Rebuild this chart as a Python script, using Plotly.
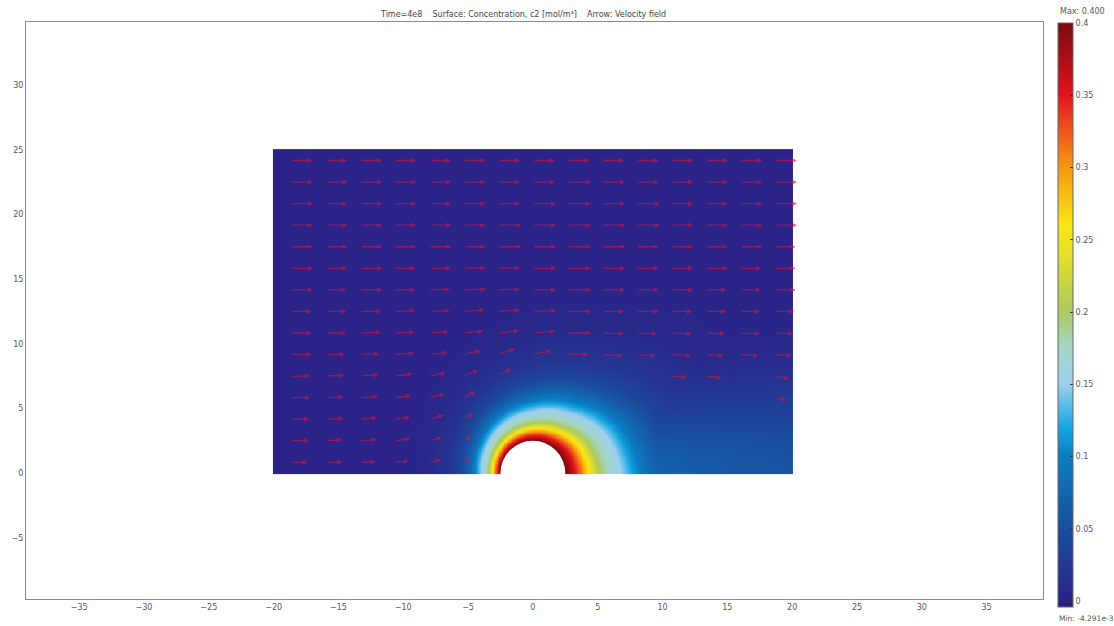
import numpy as np
import plotly.graph_objects as go

# ---------------- data ----------------
cyl_radius = 2.5
domain_x = [-20.0, 20.0]
domain_y = [0.0, 25.0]

# concentration vs. (normalised) distance from the cylinder surface, straight up
ring_dist = [0.0, 0.25, 0.6, 0.9, 1.4, 1.8, 2.3, 2.8, 3.7, 4.7, 6.0, 8.0, 12.0]
ring_conc = [0.40, 0.37, 0.32, 0.27, 0.20, 0.175, 0.15, 0.115, 0.07, 0.04, 0.02, 0.008, 0.0]

# how far the rings reach at each polar angle (0 = downstream, 180 = upstream)
stretch_angle_deg = [0, 30, 60, 90, 120, 150, 180]
stretch_factor = [1.85, 1.65, 1.25, 1.0, 0.85, 0.72, 0.65]

# downstream plume: centre-line concentration and width
plume_x = [0.0, 3.0, 6.0, 10.0, 15.0, 20.0]
plume_c0 = [0.0, 0.065, 0.078, 0.07, 0.062, 0.056]
plume_w = [3.0, 3.6, 4.6, 5.6, 6.3, 6.9]

c_min = -4.291e-3
c_max = 0.400

# arrow grid (tails) and components, rows from bottom to top
arrow_x = [-18.67, -16.0, -13.33, -10.67, -8.0, -5.33, -2.67, 0.0,
           2.67, 5.33, 8.0, 10.67, 13.33, 16.0, 18.67]
arrow_y = [0.83, 2.5, 4.17, 5.83, 7.5, 9.17, 10.83, 12.5, 14.17,
           15.83, 17.5, 19.17, 20.83, 22.5, 24.17]
arrow_u = [
    [1.3, 1.3, 1.2, 1.1, 0.9, 0.5, 0, 0, 0, 0, 0, 0, 0, 0, 0],
    [1.4, 1.3, 1.3, 1.2, 1.0, 0.6, 0, 0, 0, 0, 0, 0, 0, 0, 0],
    [1.4, 1.4, 1.3, 1.2, 1.1, 0.7, 0, 0, 0, 0, 0, 0, 0, 0, 0],
    [1.5, 1.4, 1.4, 1.3, 1.2, 0.9, 0, 0, 0, 0, 0, 0, 0, 0, 0.9],
    [1.5, 1.5, 1.4, 1.4, 1.3, 1.1, 1.0, 0, 0, 0, 0, 1.2, 1.2, 0, 1.1],
    [1.6, 1.5, 1.5, 1.5, 1.4, 1.3, 1.3, 1.4, 1.6, 1.6, 1.5, 1.5, 1.4, 1.4, 1.3],
    [1.6, 1.6, 1.6, 1.5, 1.5, 1.5, 1.6, 1.7, 1.8, 1.7, 1.6, 1.6, 1.5, 1.5, 1.4],
    [1.6, 1.6, 1.6, 1.6, 1.6, 1.6, 1.7, 1.8, 1.8, 1.7, 1.7, 1.6, 1.6, 1.5, 1.5],
    [1.7, 1.6, 1.7, 1.6, 1.6, 1.7, 1.7, 1.8, 1.8, 1.8, 1.7, 1.7, 1.6, 1.6, 1.6],
    [1.7, 1.7, 1.7, 1.6, 1.7, 1.7, 1.7, 1.8, 1.8, 1.8, 1.7, 1.7, 1.7, 1.6, 1.6],
    [1.7, 1.7, 1.7, 1.7, 1.7, 1.7, 1.8, 1.8, 1.8, 1.8, 1.7, 1.7, 1.7, 1.7, 1.6],
    [1.7, 1.7, 1.7, 1.7, 1.7, 1.7, 1.8, 1.8, 1.8, 1.8, 1.8, 1.7, 1.7, 1.7, 1.7],
    [1.7, 1.7, 1.7, 1.7, 1.7, 1.7, 1.7, 1.8, 1.8, 1.8, 1.8, 1.7, 1.7, 1.7, 1.7],
    [1.7, 1.7, 1.7, 1.7, 1.7, 1.7, 1.7, 1.7, 1.8, 1.8, 1.7, 1.7, 1.7, 1.7, 1.7],
    [1.7, 1.7, 1.7, 1.7, 1.7, 1.7, 1.7, 1.7, 1.7, 1.7, 1.7, 1.7, 1.7, 1.7, 1.7],
]
arrow_v = [
    [0.0, 0.0, 0.05, 0.1, 0.2, 0.3, 0, 0, 0, 0, 0, 0, 0, 0, 0],
    [0.0, 0.05, 0.1, 0.15, 0.25, 0.4, 0, 0, 0, 0, 0, 0, 0, 0, 0],
    [0.0, 0.05, 0.1, 0.15, 0.3, 0.45, 0, 0, 0, 0, 0, 0, 0, 0, 0],
    [0.0, 0.05, 0.1, 0.15, 0.3, 0.5, 0, 0, 0, 0, 0, 0, 0, 0, -0.2],
    [0.0, 0.05, 0.1, 0.15, 0.25, 0.45, 0.6, 0, 0, 0, 0, -0.1, -0.15, 0, -0.2],
    [0.0, 0.0, 0.05, 0.1, 0.15, 0.3, 0.45, 0.3, 0.0, -0.1, -0.1, -0.1, -0.1, -0.1, -0.1],
    [0.0, 0.0, 0.05, 0.05, 0.1, 0.15, 0.2, 0.15, 0.0, -0.05, -0.05, -0.05, -0.05, -0.05, -0.05],
    [0.0, 0.0, 0.0, 0.05, 0.05, 0.1, 0.1, 0.05, 0.0, 0.0, 0.0, 0.0, 0.0, 0.0, 0.0],
    [0, 0, 0, 0, 0.05, 0.05, 0.05, 0.0, 0, 0, 0, 0, 0, 0, 0],
    [0, 0, 0, 0, 0, 0.05, 0.05, 0, 0, 0, 0, 0, 0, 0, 0],
    [0, 0, 0, 0, 0, 0, 0, 0, 0, 0, 0, 0, 0, 0, 0],
    [0, 0, 0, 0, 0, 0, 0, 0, 0, 0, 0, 0, 0, 0, 0],
    [0, 0, 0, 0, 0, 0, 0, 0, 0, 0, 0, 0, 0, 0, 0],
    [0, 0, 0, 0, 0, 0, 0, 0, 0, 0, 0, 0, 0, 0, 0],
    [0, 0, 0, 0, 0, 0, 0, 0, 0, 0, 0, 0, 0, 0, 0],
]

# colour map (concentration values -> colours), as on the colour bar
cs_values = [-0.004291, 0.0, 0.05, 0.1, 0.12, 0.15, 0.175, 0.2, 0.24, 0.26, 0.3, 0.33, 0.35, 0.4]
cs_colors = ['#2a1c7e', '#2b2387', '#1a4f9f', '#0b7cc4', '#16a6e2', '#9dcfee',
             '#a4d6cb', '#a9ca5e', '#e6df2a', '#fbe614', '#f5990f', '#ee4a1c',
             '#e2131d', '#7a0a0e']

colorbar_ticks = [0, 0.05, 0.1, 0.15, 0.2, 0.25, 0.3, 0.35, 0.4]
x_ticks = [-35, -30, -25, -20, -15, -10, -5, 0, 5, 10, 15, 20, 25, 30, 35]
y_ticks = [-5, 0, 5, 10, 15, 20, 25, 30]

title_text = ("Time=4e8\u00a0\u00a0\u00a0\u00a0Surface: Concentration, c2 [mol/m\u00b3]"
              "\u00a0\u00a0\u00a0\u00a0Arrow: Velocity field")

# ---------------- field on a grid ----------------
xs = np.arange(domain_x[0], domain_x[1] + 1e-9, 0.1)
ys = np.arange(domain_y[0], domain_y[1] + 1e-9, 0.1)
X, Y = np.meshgrid(xs, ys)
R = np.hypot(X, Y)
TH = np.degrees(np.arctan2(Y, X))
d = np.clip(R - cyl_radius, 0, None)
s = np.interp(TH, stretch_angle_deg, stretch_factor)
ring = np.interp(d / s, ring_dist, ring_conc)
c0 = np.interp(X, plume_x, plume_c0, left=0.0)
w = np.interp(X, plume_x, plume_w)
plume = c0 * np.exp(-(Y / w) ** 2)
C = np.maximum(ring, plume)

span = c_max - c_min
colorscale = [[(v - c_min) / span, col] for v, col in zip(cs_values, cs_colors)]

fig = go.Figure()
fig.add_trace(go.Heatmap(
    x=xs, y=ys, z=C, zmin=c_min, zmax=c_max, colorscale=colorscale,
    zsmooth='best', hoverinfo='skip',
    colorbar=dict(
        thickness=15, thicknessmode='pixels',
        len=584, lenmode='pixels',
        x=1.0147, xanchor='left', xpad=0,
        y=0.492, yanchor='middle', ypad=0,
        outlinewidth=1, outlinecolor='#666',
        tickvals=colorbar_ticks,
        ticktext=[('%g' % t) for t in colorbar_ticks],
        ticks='inside', ticklen=3, tickcolor='#333',
        tickfont=dict(size=8, color='#555', family='DejaVu Sans'),
    ),
))

# velocity arrows
annotations = []
for j, yy in enumerate(arrow_y):
    for i, xx in enumerate(arrow_x):
        u = arrow_u[j][i]
        v = arrow_v[j][i]
        if u == 0 and v == 0:
            continue
        annotations.append(dict(
            x=xx + u, y=yy + v, ax=xx, ay=yy,
            xref='x', yref='y', axref='x', ayref='y',
            text='', showarrow=True, arrowhead=2, arrowsize=0.8,
            arrowwidth=1.3, arrowcolor='rgba(205,22,72,0.62)',
        ))

fig.update_layout(
    width=1114, height=626,
    margin=dict(l=22, r=71, t=22, b=27),
    paper_bgcolor='white', plot_bgcolor='white',
    showlegend=False,
    annotations=annotations,
    font=dict(family='DejaVu Sans', size=8, color='#555'),
    title=dict(text=title_text, x=0.47, xanchor='center', y=0.978, yanchor='middle',
               font=dict(size=8, color='#444', family='DejaVu Sans')),
)

# white hole of the cylinder
fig.add_shape(type='circle', xref='x', yref='y',
              x0=-cyl_radius, x1=cyl_radius, y0=-cyl_radius, y1=cyl_radius,
              fillcolor='white', line=dict(width=0), layer='above')

# Max / Min labels
fig.add_annotation(x=1.0147, y=1.0, xref='paper', yref='paper', text='Max: 0.400',
                   showarrow=False, xanchor='left', yanchor='bottom', yshift=4,
                   font=dict(size=8, color='#555'))
fig.add_annotation(x=1.0, y=0.0, xref='paper', yref='paper', text='Min: -4.291e-3',
                   showarrow=False, xanchor='left', yanchor='top', yshift=-13, xshift=14,
                   font=dict(size=7.5, color='#555'))

fig.update_xaxes(range=[-39.1, 39.35], tickvals=x_ticks, showgrid=False, zeroline=False,
                 showline=True, linecolor='#8a8a8a', linewidth=1, mirror=True,
                 ticks='', tickfont=dict(size=8, color='#555'))
fig.update_yaxes(range=[-9.74, 34.88], tickvals=y_ticks, showgrid=False, zeroline=False,
                 showline=True, linecolor='#8a8a8a', linewidth=1, mirror=True,
                 ticks='', tickfont=dict(size=8, color='#555'))

fig.write_html("out.html")
